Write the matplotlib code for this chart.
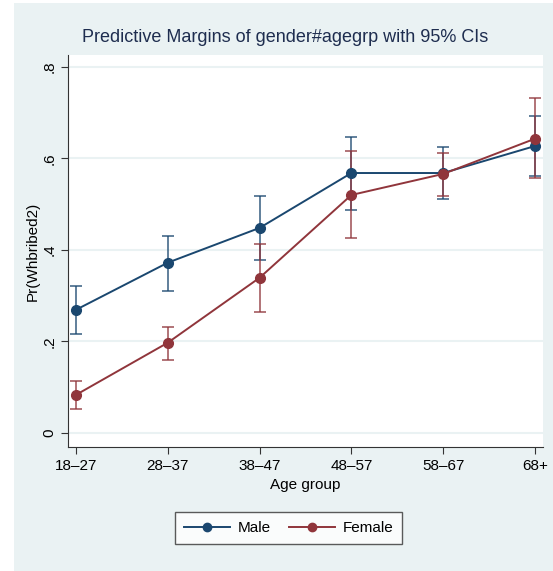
import matplotlib.pyplot as plt
from matplotlib.patches import Rectangle
from matplotlib.lines import Line2D

# predictive margins
age_groups = ["18\u201327", "28\u201337", "38\u201347", "48\u201357", "58\u201367", "68+"]
male = [0.269, 0.372, 0.448, 0.568, 0.568, 0.627]
male_lo = [0.216, 0.310, 0.378, 0.487, 0.511, 0.562]
male_hi = [0.321, 0.431, 0.518, 0.647, 0.625, 0.693]
female = [0.083, 0.197, 0.339, 0.520, 0.566, 0.643]
female_lo = [0.052, 0.160, 0.264, 0.426, 0.518, 0.557]
female_hi = [0.114, 0.232, 0.413, 0.616, 0.612, 0.732]
y_ticks = [0, 0.2, 0.4, 0.6, 0.8]
y_tick_labels = ["0", ".2", ".4", ".6", ".8"]

plt.rcParams['font.family'] = ['Liberation Sans', 'DejaVu Sans']

bg = "#eaf2f3"
navy = "#1a476f"
maroon = "#90353b"

fig = plt.figure(figsize=(5.53, 5.71), dpi=100)
fig.patches.append(Rectangle((14 / 553, 0), 1, 1 - 3 / 571, transform=fig.transFigure,
                             facecolor=bg, edgecolor="none", zorder=-10))

ax = fig.add_axes([68 / 553, 1 - 447 / 571, 475 / 553, 392 / 571])
ax.set_facecolor("white")

x = list(range(len(age_groups)))
for vals, lo, hi, col in [(male, male_lo, male_hi, navy), (female, female_lo, female_hi, maroon)]:
    err = [[v - l for v, l in zip(vals, lo)], [h - v for v, h in zip(vals, hi)]]
    ax.errorbar(x, vals, yerr=err, fmt="none", ecolor=col, alpha=0.75,
                elinewidth=1.3, capsize=4, capthick=1.3, zorder=3)
    ax.plot(x, vals, color=col, lw=1.4, marker="o", markersize=7, zorder=4)

ax.set_xlim(-0.087, 5.087)
ax.set_ylim(-0.031, 0.826)
ax.set_xticks(x)
ax.set_xticklabels(age_groups, fontsize=11)
ax.set_yticks(y_ticks)
ax.set_yticklabels(y_tick_labels, fontsize=11, rotation=90, va="center")
ax.yaxis.grid(True, color=bg, lw=1.5)
ax.set_axisbelow(True)
for s in ["top", "right"]:
    ax.spines[s].set_visible(False)
for s in ["left", "bottom"]:
    ax.spines[s].set_color("#333333")
ax.tick_params(length=5, color="#333333")

ax.set_xlabel("Age group", fontsize=11, labelpad=4)
ax.set_ylabel("Pr(Whbribed2)", fontsize=11, labelpad=2)
fig.text(0.515, 1 - 38 / 571, "Predictive Margins of gender#agegrp with 95% CIs",
         ha="center", va="center", fontsize=13, color="#1e2d4f")

handles = [Line2D([], [], color=navy, marker="o", lw=1.4, markersize=6),
           Line2D([], [], color=maroon, marker="o", lw=1.4, markersize=6)]
leg = fig.legend(handles, ["Male", "Female"], loc="center", ncol=2,
                 bbox_to_anchor=(288.5 / 553, 1 - 528 / 571), fontsize=11,
                 frameon=True, fancybox=False, edgecolor="#333333",
                 handlelength=3.0, handletextpad=0.5, columnspacing=1.2,
                 borderpad=0.6)
leg.get_frame().set_linewidth(1.0)

fig.savefig("out.png", dpi=100)
